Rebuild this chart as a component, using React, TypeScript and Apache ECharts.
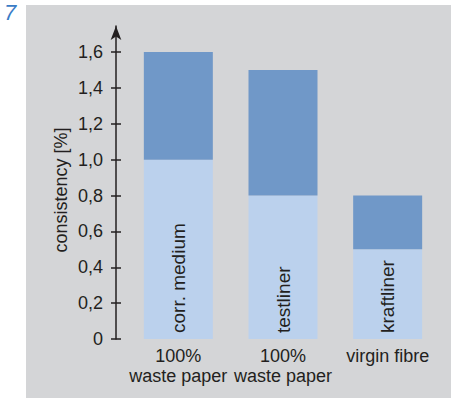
import React, { useEffect, useRef } from 'react';
import * as echarts from 'echarts';

const categories = ['100%\nwaste paper', '100%\nwaste paper', 'virgin fibre'];
const barLabels = ['corr. medium', 'testliner', 'kraftliner'];
const lowerValues = [1.0, 0.8, 0.5];
const upperValues = [0.6, 0.7, 0.3];
const yTicks = [0, 0.2, 0.4, 0.6, 0.8, 1.0, 1.2, 1.4, 1.6];
const yAxisName = 'consistency [%]';
const figureNumber = '7';

const FONT = '"Liberation Sans", Arial, sans-serif';
const TEXT = '#231f20';

const fmt = (v: number) => (v === 0 ? '0' : v.toFixed(1).replace('.', ','));

export default function App() {
  const ref = useRef<HTMLDivElement>(null);
  useEffect(() => {
    if (!ref.current) return;
    const chart = echarts.init(ref.current, undefined, { renderer: 'svg' });
    const yBase = {
      type: 'value' as const,
      min: 0,
      max: 1.745,
      position: 'left' as const,
      offset: 10,
      splitLine: { show: false },
    };
    chart.setOption({
      animation: false,
      backgroundColor: '#ffffff',
      textStyle: { fontFamily: FONT },
      graphic: [
        {
          type: 'rect',
          z: -10,
          shape: { x: 26, y: 5, width: 425, height: 393 },
          style: { fill: '#d4d5d7' },
          silent: true,
        },
        {
          type: 'text',
          left: 4,
          top: 1,
          style: {
            text: figureNumber,
            fill: '#3a7cc6',
            font: 'italic 22px "Liberation Sans", Arial, sans-serif',
          },
        },
        {
          type: 'text',
          x: 61,
          y: 190,
          rotation: Math.PI / 2,
          style: {
            text: yAxisName,
            fill: TEXT,
            font: '18px "Liberation Sans", Arial, sans-serif',
            align: 'center',
            verticalAlign: 'middle',
          },
        },
      ],
      grid: { left: 126, right: 11, top: 26, bottom: 59, containLabel: false },
      xAxis: {
        type: 'category',
        data: categories,
        axisLine: { show: false },
        axisTick: { show: false },
        axisLabel: {
          color: TEXT,
          fontSize: 18,
          fontFamily: FONT,
          lineHeight: 20,
          margin: 7,
          interval: 0,
          formatter: (_v: string, i: number) => categories[i],
        },
      },
      yAxis: [
        {
          ...yBase,
          axisLine: {
            show: true,
            symbol: ['none', 'arrow'],
            symbolSize: [8, 14],
            lineStyle: { color: TEXT, width: 1.5 },
          },
          axisTick: {
            show: true,
            length: 5,
            customValues: yTicks,
            lineStyle: { color: TEXT, width: 1.5 },
          },
          axisLabel: {
            color: TEXT,
            fontSize: 18,
            fontFamily: FONT,
            margin: 13,
            customValues: yTicks,
            formatter: (v: number) => fmt(v),
          },
        },
        {
          ...yBase,
          axisLine: { show: false },
          axisTick: {
            show: true,
            inside: true,
            length: 5,
            customValues: yTicks,
            lineStyle: { color: TEXT, width: 1.5 },
          },
          axisLabel: { show: false },
        },
      ],
      series: [
        {
          type: 'bar',
          stack: 'total',
          barWidth: 69,
          data: lowerValues,
          itemStyle: { color: '#bbd1ed' },
          label: {
            show: true,
            position: 'insideBottom',
            rotate: 90,
            align: 'left',
            verticalAlign: 'middle',
            distance: 6,
            color: TEXT,
            fontSize: 19,
            fontFamily: FONT,
            formatter: (p: any) => barLabels[p.dataIndex],
          },
        },
        {
          type: 'bar',
          stack: 'total',
          barWidth: 69,
          data: upperValues,
          itemStyle: { color: '#7098c8' },
        },
      ],
    });
    return () => chart.dispose();
  }, []);
  return (
    <div
      ref={ref}
      style={{ position: 'fixed', left: 0, top: 0, width: 451, height: 398 }}
    />
  );
}
